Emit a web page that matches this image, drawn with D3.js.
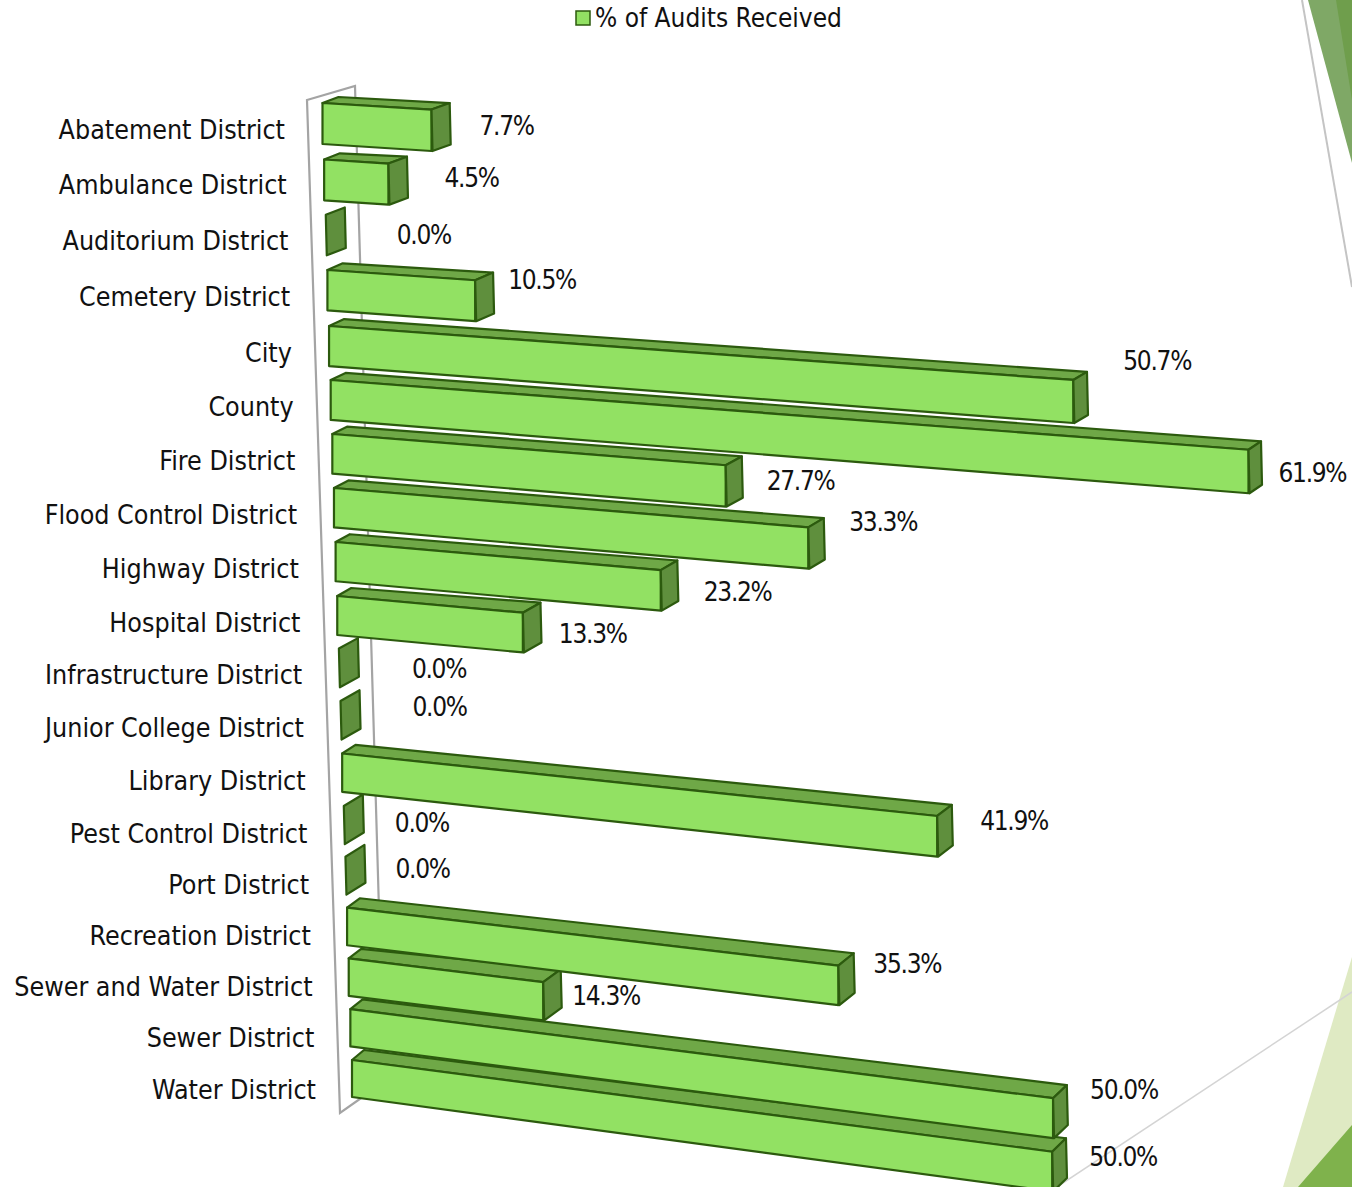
<!DOCTYPE html>
<html>
<head>
<meta charset="utf-8">
<title>% of Audits Received</title>
<script src="https://cdn.jsdelivr.net/npm/d3@7"></script>
<style>
    html, body { margin: 0; padding: 0; background: #fff; }
    text { font-family: "DejaVu Sans Condensed", "DejaVu Sans", sans-serif; fill: #111; }
</style>
</head>
<body>
<div id="chart"></div>
<script>
var categories = ["Abatement District", "Ambulance District", "Auditorium District", "Cemetery District",
    "City", "County", "Fire District", "Flood Control District", "Highway District", "Hospital District",
    "Infrastructure District", "Junior College District", "Library District", "Pest Control District",
    "Port District", "Recreation District", "Sewer and Water District", "Sewer District", "Water District"];
var values = [7.7, 4.5, 0.0, 10.5, 50.7, 61.9, 27.7, 33.3, 23.2, 13.3, 0.0, 0.0, 41.9, 0.0, 0.0, 35.3, 14.3, 50.0, 50.0];
var seriesName = "% of Audits Received";

// hand placed data labels, offset from the bar's front top corner
var labelNudge = [[48, 16.5], [56, 14.5], [71, 20.5], [33, -0.5], [50, -19], [30, 23], [41, 16], [41, -5], [43, 22],
    [36, 21], [73, 20], [72, 6], [43, 5], [51, 17], [50, 12], [35, -2], [29, 14], [37, -8], [37, 5]];

var width = 1352, height = 1187;
var colors = {front: "#92e163", top: "#6fa847", side: "#5f8f3d", edge: "#2c5a0e", wall: "#a4a4a4", rule: "#d4d4d4"};

var svg = d3.select("#chart").append("svg")
    .attr("width", width).attr("height", height)
    .style("display", "block");

// the front of the bars is a plane seen in perspective, so everything varies by row
var rowLeft = d3.scaleLinear().domain([0, 18]).range([322.5, 352]);
var rowTop = d3.scaleLinear().domain([0, 1, 3, 4, 9, 13, 18]).range([103, 159.5, 270, 326, 596, 806, 1060]);
var rowSlope = d3.scaleLinear().domain([0, 4, 9, 12, 18]).range([0.06, 0.0725, 0.09, 0.105, 0.131]);
var rowRate = d3.scaleLinear()
    .domain([0, 1, 3, 4, 5, 6, 7, 8, 9, 12, 15, 16, 17, 18])
    .range([14.9, 15.2, 14.72, 14.88, 14.97, 14.57, 14.56, 14.43, 14.53, 14.45, 14.21, 14.14, 14.25, 14.2]);
var rowHeight = d3.scaleLinear().domain([0, 18]).range([41, 37]);
var backLeftX = d3.scaleLinear().domain([0, 18]).range([16, 12]);
var backLeftY = d3.scaleLinear().domain([0, 18]).range([-6, -10]);
var backRightY = d3.scaleLinear().domain([0, 18]).range([-6.5, -13.5]);
var x = d3.scalePow().exponent(1.02).domain([0, 100]).range([0, 100]);
var backRightX = d3.scaleLinear().domain([0, 62]).range([19, 12.5]);
var growth = d3.scaleLinear().domain([0, 62]).range([1, 1.09]);

var catEnd = d3.scaleLinear().domain([0, 18]).range([285, 316]);
var catY = d3.scaleLinear().domain([0, 4, 9, 13, 18]).range([129, 352, 622, 833, 1089]);

function barGeometry(r) {
    var v = values[r];
    var left = rowLeft(r), top = rowTop(r), hl = rowHeight(r);
    var right = left + rowRate(r) * x(v);
    var rightTop = top + rowSlope(r) * (right - left);
    var hr = hl * growth(v);
    var dxr = backRightX(v), dyr = backRightY(r);
    return {
        front: [[left, top], [right, rightTop], [right, rightTop + hr], [left, top + hl]],
        top: [[left, top], [left + backLeftX(r), top + backLeftY(r)], [right + dxr, rightTop + dyr], [right, rightTop]],
        side: [[right, rightTop], [right + dxr, rightTop + dyr], [right + dxr + 1, rightTop + hr + dyr], [right + 1, rightTop + hr]],
        corner: [right, rightTop]
    };
}

function pts(p) { return p.map(function (d) { return d.join(","); }).join(" "); }

// slide background shapes behind the plot
var decor = svg.append("g");
decor.append("polygon").attr("points", "1308,0 1352,0 1352,163").attr("fill", "#7fa866");
decor.append("polygon").attr("points", "1336,0 1352,0 1352,100").attr("fill", "#6f9e4c");
decor.append("line").attr("x1", 1302).attr("y1", 0).attr("x2", 1352).attr("y2", 287)
    .attr("stroke", "#c4c4c4").attr("stroke-width", 2);
decor.append("polygon").attr("points", "1283,1187 1352,957 1352,1187").attr("fill", "#dfeac3");
decor.append("polygon").attr("points", "1298,1187 1352,1125 1352,1187").attr("fill", "#7fb24c");
decor.append("line").attr("x1", 1057).attr("y1", 1187).attr("x2", 1352).attr("y2", 992)
    .attr("stroke", colors.rule).attr("stroke-width", 1.5);

// back wall of the 3d plot area
svg.append("polyline")
    .attr("points", "384,1082 340,1113 307,100 355,86 384,1082")
    .attr("fill", "none").attr("stroke", colors.wall).attr("stroke-width", 2.2);

// lower rows go first so each bar sits on top of the one below it
var rows = d3.range(categories.length).reverse();
var bars = svg.selectAll(".bar").data(rows).enter().append("g").attr("class", "bar");
bars.each(function (r) {
    var g = d3.select(this), geo = barGeometry(r);
    var faces = values[r] > 0 ? ["top", "front", "side"] : ["side"];
    faces.forEach(function (f) {
        g.append("polygon")
            .attr("points", pts(geo[f]))
            .attr("fill", colors[f])
            .attr("stroke", colors.edge)
            .attr("stroke-width", 2.2)
            .attr("stroke-linejoin", "round");
    });
});

svg.selectAll(".cat").data(categories).enter().append("text")
    .attr("class", "cat")
    .attr("x", function (d, i) { return catEnd(i); })
    .attr("y", function (d, i) { return catY(i); })
    .attr("text-anchor", "end")
    .attr("dominant-baseline", "central")
    .style("font-size", "26.6px")
    .text(function (d) { return d; });

svg.selectAll(".val").data(values).enter().append("text")
    .attr("class", "val")
    .attr("x", function (d, i) { return barGeometry(i).corner[0] + labelNudge[i][0]; })
    .attr("y", function (d, i) { return barGeometry(i).corner[1] + labelNudge[i][1]; })
    .attr("dominant-baseline", "central")
    .style("font-size", "26px")
    .style("letter-spacing", "-1.3px")
    .text(function (d) { return d.toFixed(1) + "%"; });

// legend
svg.append("rect").attr("x", 576).attr("y", 11).attr("width", 14).attr("height", 14)
    .attr("fill", colors.front).attr("stroke", colors.edge).attr("stroke-width", 1.5);
svg.append("text").attr("x", 595).attr("y", 18)
    .attr("dominant-baseline", "central")
    .style("font-size", "26px")
    .text(seriesName);
</script>
</body>
</html>
